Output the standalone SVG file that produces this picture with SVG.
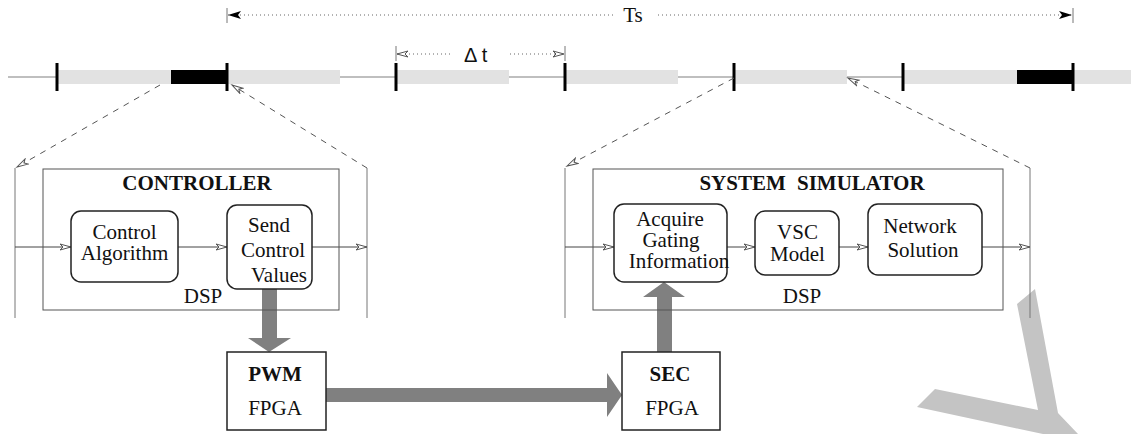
<svg xmlns="http://www.w3.org/2000/svg" width="1131" height="434" viewBox="0 0 1131 434">
<defs>
<marker id="open" markerUnits="userSpaceOnUse" markerWidth="14" markerHeight="10" refX="12" refY="4" orient="auto">
<path d="M1,1 L12,4 L1,7 L4,4 Z" fill="#fff" stroke="#555" stroke-width="1"/>
</marker>
<marker id="filled" markerUnits="userSpaceOnUse" markerWidth="16" markerHeight="10" refX="14" refY="5" orient="auto">
<path d="M1,1 L14,5 L1,9 L4,5 Z" fill="#000"/>
</marker>
</defs>
<style>
.bar{fill:#e2e2e2}
.blk{fill:#000}
.base{stroke:#808080;stroke-width:1.2;fill:none}
.tick{stroke:#000;stroke-width:3}
.thin{stroke:#777;stroke-width:1;fill:none}
.dot{stroke:#666;stroke-width:1;stroke-dasharray:1 3;fill:none}
.dash{stroke:#555;stroke-width:1;stroke-dasharray:6 6;fill:none}
.outer{fill:none;stroke:#555;stroke-width:1}
.rbox{fill:#fff;stroke:#222;stroke-width:1.5}
.sbox{fill:#fff;stroke:#222;stroke-width:1.5}
.flow{stroke:#444;stroke-width:1;fill:none;marker-end:url(#open)}
.t{font-family:"Liberation Serif","Times New Roman",serif;font-size:21px;fill:#111;text-anchor:middle}
.b{font-weight:bold}
.gray{fill:#808080}
</style>
<polygon points="1017,304 1035,289 1058,413 1078,434 1043,434 917,407 935,389 1038,410" fill="#c4c4c4"/>
<g id="timeline">
<line class="base" x1="8" y1="77" x2="57" y2="77"/>
<rect class="bar" x="57" y="70" width="114" height="14"/>
<rect class="blk" x="171" y="70" width="56" height="14"/>
<rect class="bar" x="227" y="70" width="113" height="14"/>
<line class="base" x1="340" y1="77" x2="396" y2="77"/>
<rect class="bar" x="396" y="70" width="113" height="14"/>
<line class="base" x1="509" y1="77" x2="565" y2="77"/>
<rect class="bar" x="565" y="70" width="113" height="14"/>
<line class="base" x1="678" y1="77" x2="734" y2="77"/>
<rect class="bar" x="734" y="70" width="113" height="14"/>
<line class="base" x1="847" y1="77" x2="903" y2="77"/>
<rect class="bar" x="903" y="70" width="114" height="14"/>
<rect class="blk" x="1017" y="70" width="56" height="14"/>
<rect class="bar" x="1073" y="70" width="58" height="14"/>
<line class="tick" x1="57" y1="63" x2="57" y2="91"/>
<line class="tick" x1="227" y1="63" x2="227" y2="91"/>
<line class="tick" x1="396" y1="63" x2="396" y2="91"/>
<line class="tick" x1="565" y1="63" x2="565" y2="91"/>
<line class="tick" x1="734" y1="63" x2="734" y2="91"/>
<line class="tick" x1="903" y1="63" x2="903" y2="91"/>
<line class="tick" x1="1073" y1="63" x2="1073" y2="91"/>
</g>
<g id="ts">
<line class="thin" x1="227" y1="8" x2="227" y2="23"/>
<line class="thin" x1="1073" y1="8" x2="1073" y2="23"/>
<line class="dot" x1="613" y1="15" x2="228" y2="15" marker-end="url(#filled)"/>
<line class="dot" x1="658" y1="15" x2="1072" y2="15" marker-end="url(#filled)"/>
<text class="t" x="633" y="22">Ts</text>
</g>
<g id="dt">
<line class="thin" x1="396" y1="46" x2="396" y2="61"/>
<line class="thin" x1="565" y1="46" x2="565" y2="61"/>
<line class="dot" x1="450" y1="54" x2="397" y2="54" marker-end="url(#open)"/>
<line class="dot" x1="510" y1="54" x2="564" y2="54" marker-end="url(#open)"/>
<text x="464" y="62" font-family="Liberation Sans, Arial, sans-serif" font-size="20" fill="#111">Δ t</text>
</g>
<g id="connectors">
<line class="dash" x1="160" y1="85" x2="17" y2="167" marker-end="url(#open)"/>
<line class="dash" x1="367" y1="168" x2="232" y2="85" marker-end="url(#open)"/>
<line class="dash" x1="734" y1="78" x2="567" y2="166" marker-end="url(#open)"/>
<line class="dash" x1="1030" y1="168" x2="848" y2="78" marker-end="url(#open)"/>
<line class="thin" x1="15" y1="168" x2="15" y2="318"/>
<line class="thin" x1="367" y1="168" x2="367" y2="318"/>
<line class="thin" x1="565" y1="168" x2="565" y2="318"/>
<line class="thin" x1="1030" y1="168" x2="1030" y2="318"/>
<line class="flow" x1="15" y1="247" x2="71" y2="247"/>
<line class="flow" x1="178" y1="247" x2="227" y2="247"/>
<line class="flow" x1="312" y1="247" x2="367" y2="247"/>
<line class="flow" x1="565" y1="247" x2="614" y2="247"/>
<line class="flow" x1="727" y1="247" x2="755" y2="247"/>
<line class="flow" x1="839" y1="247" x2="868" y2="247"/>
<line class="flow" x1="982" y1="247" x2="1030" y2="247"/>
<polygon class="gray" points="262,289 277,289 277,338 291,338 269,352 248,338 262,338"/>
<polygon class="gray" points="326,388 607,388 607,373 622,395 607,417 607,402 326,402"/>
<polygon class="gray" points="657,352 672,352 672,297 685,297 664,282 643,297 657,297"/>
</g>
<g id="controller">
<rect class="outer" x="43" y="169" width="296" height="141"/>
<text class="t b" x="197" y="190">CONTROLLER</text>
<text class="t" x="203" y="303">DSP</text>
</g>
<g id="control-algorithm">
<rect class="rbox" x="71" y="211" width="107" height="71" rx="10"/>
<text class="t" x="124.5" y="239">Control</text>
<text class="t" x="124.5" y="260">Algorithm</text>
</g>
<g id="send-control-values">
<rect class="rbox" x="227" y="205" width="85" height="84" rx="10"/>
<text class="t" x="269" y="232">Send</text>
<text class="t" x="273" y="257">Control</text>
<text class="t" x="279" y="282">Values</text>
</g>
<g id="system-simulator">
<rect class="outer" x="593" y="169" width="410" height="141"/>
<text class="t b" x="812" y="190" word-spacing="6">SYSTEM SIMULATOR</text>
<text class="t" x="802" y="303">DSP</text>
</g>
<g id="acquire-gating">
<rect class="rbox" x="614" y="204" width="113" height="78" rx="10"/>
<text class="t" x="670" y="226">Acquire</text>
<text class="t" x="671" y="247">Gating</text>
<text class="t" x="679" y="268">Information</text>
</g>
<g id="vsc-model">
<rect class="rbox" x="755" y="211" width="84" height="64" rx="10"/>
<text class="t" x="797.5" y="239">VSC</text>
<text class="t" x="797.5" y="261">Model</text>
</g>
<g id="network-solution">
<rect class="rbox" x="868" y="204" width="114" height="71" rx="10"/>
<text class="t" x="920" y="233">Network</text>
<text class="t" x="923" y="257">Solution</text>
</g>
<g id="pwm">
<rect class="sbox" x="227" y="352" width="99" height="78"/>
<text class="t b" x="275" y="381">PWM</text>
<text class="t" x="275" y="415">FPGA</text>
</g>
<g id="sec">
<rect class="sbox" x="622" y="352" width="98" height="78"/>
<text class="t b" x="670" y="381">SEC</text>
<text class="t" x="672" y="415">FPGA</text>
</g>
</svg>
